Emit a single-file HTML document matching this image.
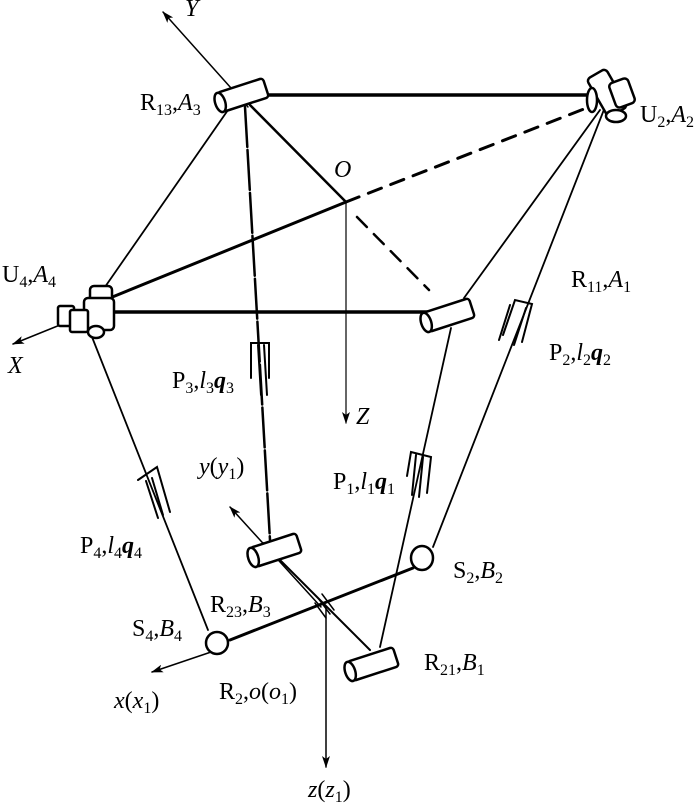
<!DOCTYPE html>
<html><head><meta charset="utf-8"><style>
html,body{margin:0;padding:0;background:#fff;}
svg{display:block;}
text{font-family:"Liberation Serif",serif;font-size:24px;fill:#000;}
.s{font-size:16px;}
</style></head><body>
<svg width="700" height="809" viewBox="0 0 700 809" xmlns="http://www.w3.org/2000/svg">
<defs>
<marker id="ar" markerWidth="12" markerHeight="8" refX="11" refY="4" orient="auto" markerUnits="userSpaceOnUse">
<path d="M0,0 L12,4 L0,8 L3,4 Z" fill="#000"/></marker>
</defs>
<g stroke="#000" fill="none" stroke-linecap="round">
<line x1="268" y1="95" x2="586" y2="95" stroke-width="3.5"/>
<line x1="109" y1="312" x2="430" y2="312" stroke-width="3.5"/>
<line x1="228" y1="110" x2="98" y2="297" stroke-width="1.8"/>
<line x1="600" y1="110" x2="464" y2="298" stroke-width="1.8"/>
<line x1="105" y1="300" x2="346" y2="202" stroke-width="3"/>
<line x1="346" y1="202" x2="589" y2="107" stroke-width="3" stroke-dasharray="14,10"/>
<line x1="250" y1="105" x2="346" y2="202" stroke-width="2.5"/>
<line x1="357" y1="217" x2="429" y2="290" stroke-width="2.5" stroke-dasharray="14,10"/>
<line x1="248" y1="107" x2="163" y2="12" stroke-width="1.5" marker-end="url(#ar)"/>
<line x1="346" y1="202" x2="346" y2="423" stroke-width="1.2" marker-end="url(#ar)"/>
<line x1="60" y1="325" x2="13" y2="344" stroke-width="1.5" marker-end="url(#ar)"/>
<line x1="245" y1="107" x2="270" y2="540" stroke-width="2.5" stroke-dasharray="40,3"/>
<line x1="605" y1="107" x2="433" y2="547" stroke-width="1.8"/>
<line x1="92" y1="337" x2="208" y2="630" stroke-width="1.8"/>
<line x1="451" y1="328" x2="380" y2="647" stroke-width="1.8"/>
<path d="M251,378 L251,343 L269,343 L269,378 M258,345 L261,395 M264,345 L267,395" stroke-width="2"/>
<path d="M503,335 L515,300 L532,304 L522,342 M510,305 L499,340 M526,308 L514,345" stroke-width="2"/>
<path d="M138,480 L157,467 L170,512 M146,481 L158,518 M152,478 L163,515" stroke-width="2"/>
<path d="M407,476 L411,452 L431,457 L427,493 M416,455 L412,495 M423,457 L419,497" stroke-width="2"/>
<line x1="230" y1="640" x2="413" y2="568" stroke-width="3"/>
<line x1="263" y1="543" x2="370" y2="650" stroke-width="2"/>
<path d="M318,598 L330,614 M322,594 L334,610 M315,603 L326,618" stroke-width="1.5"/>
<line x1="217" y1="650" x2="152" y2="672" stroke-width="1.5" marker-end="url(#ar)"/>
<line x1="321" y1="607" x2="230" y2="507" stroke-width="1.5" marker-end="url(#ar)"/>
<line x1="326" y1="607" x2="326" y2="767" stroke-width="1.5" marker-end="url(#ar)"/>
</g>
<g stroke="#000" stroke-width="2.5" fill="#fff">
<g transform="translate(243,95) rotate(-18)"><rect x="-24" y="-10" width="48" height="20" rx="3"/><ellipse cx="-24" cy="0" rx="5" ry="10"/></g>
<g transform="translate(449,315) rotate(-18)"><rect x="-24" y="-10" width="48" height="20" rx="3"/><ellipse cx="-24" cy="0" rx="5" ry="10"/></g>
<g transform="translate(276,550) rotate(-18)"><rect x="-24" y="-10" width="48" height="20" rx="3"/><ellipse cx="-24" cy="0" rx="5" ry="10"/></g>
<g transform="translate(373,664) rotate(-18)"><rect x="-24" y="-10" width="48" height="20" rx="3"/><ellipse cx="-24" cy="0" rx="5" ry="10"/></g>
<g transform="translate(607,93) rotate(60)"><rect x="-22" y="-11" width="44" height="22" rx="4"/></g>
<g transform="translate(622,93) rotate(-20)"><rect x="-10" y="-13" width="20" height="26" rx="4"/></g>
<ellipse cx="616" cy="116" rx="10" ry="6"/>
<ellipse cx="592" cy="100" rx="5" ry="12"/>
<rect x="90" y="286" width="22" height="18" rx="4"/>
<rect x="84" y="298" width="30" height="32" rx="4"/>
<rect x="58" y="306" width="16" height="20" rx="2"/>
<rect x="70" y="310" width="18" height="22" rx="2"/>
<ellipse cx="96" cy="332" rx="8" ry="6"/>
<ellipse cx="422" cy="558" rx="11" ry="12"/>
<ellipse cx="217" cy="643" rx="11" ry="11"/>
</g>
<text x="140" y="110">R<tspan class="s" dy="5">13</tspan><tspan dy="-5">,</tspan><tspan font-style="italic">A</tspan><tspan class="s" dy="5">3</tspan></text>
<text x="640" y="122">U<tspan class="s" dy="5">2</tspan><tspan dy="-5">,</tspan><tspan font-style="italic">A</tspan><tspan class="s" dy="5">2</tspan></text>
<text x="571" y="287">R<tspan class="s" dy="5">11</tspan><tspan dy="-5">,</tspan><tspan font-style="italic">A</tspan><tspan class="s" dy="5">1</tspan></text>
<text x="2" y="282">U<tspan class="s" dy="5">4</tspan><tspan dy="-5">,</tspan><tspan font-style="italic">A</tspan><tspan class="s" dy="5">4</tspan></text>
<text x="334" y="177" font-style="italic">O</text>
<text x="185" y="16" font-style="italic">Y</text>
<text x="8" y="373" font-style="italic">X</text>
<text x="356" y="424" font-style="italic">Z</text>
<text x="172" y="388">P<tspan class="s" dy="5">3</tspan><tspan dy="-5">,</tspan><tspan font-style="italic">l</tspan><tspan class="s" dy="5">3</tspan><tspan dy="-5" font-weight="bold" font-style="italic">q</tspan><tspan class="s" dy="5">3</tspan></text>
<text x="549" y="360">P<tspan class="s" dy="5">2</tspan><tspan dy="-5">,</tspan><tspan font-style="italic">l</tspan><tspan class="s" dy="5">2</tspan><tspan dy="-5" font-weight="bold" font-style="italic">q</tspan><tspan class="s" dy="5">2</tspan></text>
<text x="333" y="489">P<tspan class="s" dy="5">1</tspan><tspan dy="-5">,</tspan><tspan font-style="italic">l</tspan><tspan class="s" dy="5">1</tspan><tspan dy="-5" font-weight="bold" font-style="italic">q</tspan><tspan class="s" dy="5">1</tspan></text>
<text x="80" y="553">P<tspan class="s" dy="5">4</tspan><tspan dy="-5">,</tspan><tspan font-style="italic">l</tspan><tspan class="s" dy="5">4</tspan><tspan dy="-5" font-weight="bold" font-style="italic">q</tspan><tspan class="s" dy="5">4</tspan></text>
<text x="199" y="474"><tspan font-style="italic">y</tspan>(<tspan font-style="italic">y</tspan><tspan class="s" dy="5">1</tspan><tspan dy="-5">)</tspan></text>
<text x="210" y="612">R<tspan class="s" dy="5">23</tspan><tspan dy="-5">,</tspan><tspan font-style="italic">B</tspan><tspan class="s" dy="5">3</tspan></text>
<text x="132" y="636">S<tspan class="s" dy="5">4</tspan><tspan dy="-5">,</tspan><tspan font-style="italic">B</tspan><tspan class="s" dy="5">4</tspan></text>
<text x="453" y="578">S<tspan class="s" dy="5">2</tspan><tspan dy="-5">,</tspan><tspan font-style="italic">B</tspan><tspan class="s" dy="5">2</tspan></text>
<text x="424" y="670">R<tspan class="s" dy="5">21</tspan><tspan dy="-5">,</tspan><tspan font-style="italic">B</tspan><tspan class="s" dy="5">1</tspan></text>
<text x="219" y="699">R<tspan class="s" dy="5">2</tspan><tspan dy="-5">,</tspan><tspan font-style="italic">o</tspan>(<tspan font-style="italic">o</tspan><tspan class="s" dy="5">1</tspan><tspan dy="-5">)</tspan></text>
<text x="114" y="708"><tspan font-style="italic">x</tspan>(<tspan font-style="italic">x</tspan><tspan class="s" dy="5">1</tspan><tspan dy="-5">)</tspan></text>
<text x="308" y="797"><tspan font-style="italic">z</tspan>(<tspan font-style="italic">z</tspan><tspan class="s" dy="5">1</tspan><tspan dy="-5">)</tspan></text>
</svg>
</body></html>
